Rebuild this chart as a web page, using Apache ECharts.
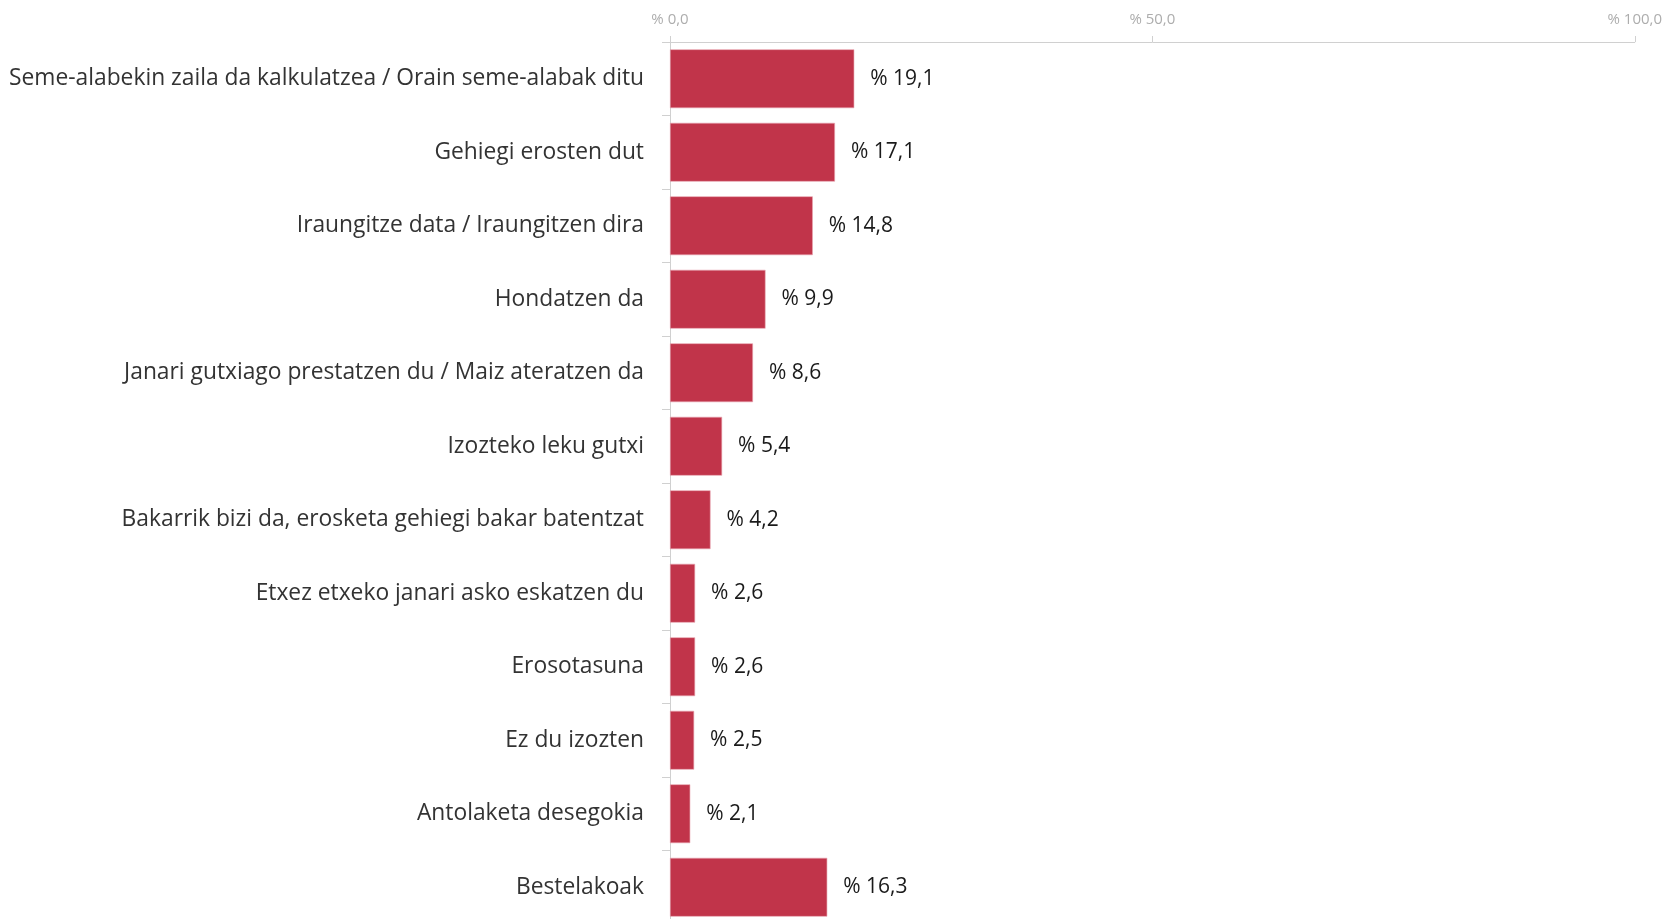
<!DOCTYPE html>
<html>
<head>
<meta charset="utf-8">
<script src="https://cdn.jsdelivr.net/npm/echarts@6/dist/echarts.min.js"></script>
<style>
  html, body { margin: 0; padding: 0; background: #ffffff; overflow: hidden; }
  /* the last row runs slightly past the bottom edge of the page */
  #chart { width: 1665px; height: 930px; }
</style>
</head>
<body>
<div id="chart"></div>
<script>
// Reasons for food waste at home, share of respondents (%)
const categories = [
  'Seme-alabekin zaila da kalkulatzea / Orain seme-alabak ditu',
  'Gehiegi erosten dut',
  'Iraungitze data / Iraungitzen dira',
  'Hondatzen da',
  'Janari gutxiago prestatzen du / Maiz ateratzen da',
  'Izozteko leku gutxi',
  'Bakarrik bizi da, erosketa gehiegi bakar batentzat',
  'Etxez etxeko janari asko eskatzen du',
  'Erosotasuna',
  'Ez du izozten',
  'Antolaketa desegokia',
  'Bestelakoak'
];
const values = [19.1, 17.1, 14.8, 9.9, 8.6, 5.4, 4.2, 2.6, 2.6, 2.5, 2.1, 16.3];
const axisTicks = [0, 50, 100];

const pct = v => '% ' + v.toFixed(1).replace('.', ',');

const chart = echarts.init(document.getElementById('chart'));
chart.setOption({
  animation: false,
  grid: { left: 670, top: 42, width: 965, height: 882, containLabel: false },
  xAxis: {
    type: 'value',
    position: 'top',
    min: axisTicks[0],
    max: axisTicks[axisTicks.length - 1],
    interval: axisTicks[1] - axisTicks[0],
    axisLine: { show: true, lineStyle: { color: '#d0d0d0', width: 1 } },
    axisTick: { show: true, inside: false, length: 6, lineStyle: { color: '#d0d0d0' } },
    splitLine: { show: false },
    axisLabel: {
      formatter: pct,
      color: '#adadad',
      fontFamily: 'Open Sans',
      fontSize: 15,
      margin: 15
    }
  },
  yAxis: {
    type: 'category',
    inverse: true,
    data: categories,
    axisLine: { show: true, lineStyle: { color: '#d0d0d0', width: 1 } },
    axisTick: { show: true, length: 8, lineStyle: { color: '#d0d0d0' } },
    axisLabel: {
      color: '#333333',
      fontFamily: 'Open Sans',
      fontSize: 22.8,
      margin: 26,
      padding: [9, 0, 0, 0]
    }
  },
  series: [{
    type: 'bar',
    data: values,
    barCategoryGap: '20%',
    itemStyle: { color: '#c1344a', borderColor: '#e8a3ae', borderWidth: 0.6 },
    label: {
      show: true,
      position: 'right',
      distance: 16,
      padding: [9, 0, 0, 0],
      formatter: p => pct(p.value),
      color: '#1a1a1a',
      fontFamily: 'Open Sans',
      fontSize: 21
    }
  }]
});
</script>
</body>
</html>
